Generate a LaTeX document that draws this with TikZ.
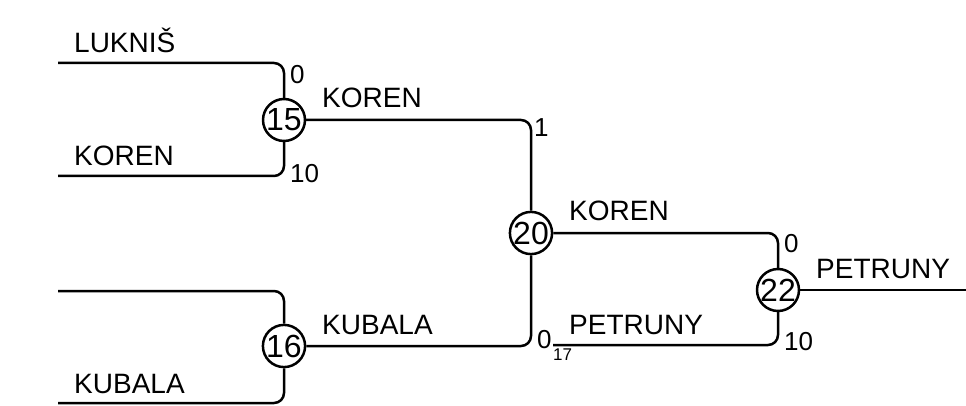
\documentclass[tikz,border=0pt]{standalone}
\usepackage{fontspec}
\setmainfont{Liberation Sans}
\usetikzlibrary{positioning}
\tikzset{
  match/.style={circle,draw,line width=2.5pt,minimum size=39pt,inner sep=0pt,font=\fontsize{32}{32}\selectfont},
  team/.style={anchor=base west,inner sep=0pt,font=\fontsize{28}{28}\selectfont},
  score/.style={inner sep=0pt,font=\fontsize{26}{26}\selectfont},
  wire/.style={line width=2.5pt,rounded corners=10pt}
}
\begin{document}
\begin{tikzpicture}[x=1pt,y=-1pt]
\useasboundingbox (0,0) rectangle (966,406);
\node[match] (m15) at (284,120) {15};
\node[match] (m16) at (284,346) {16};
\node[match] (m20) at (531,233) {20};
\node[match] (m22) at (778,290) {22};
\coordinate (e1) at (58,63);
\coordinate (e2) at (58,176);
\coordinate (e3) at (58,291);
\coordinate (e4) at (58,403);
\coordinate (e5) at (553,345);
\coordinate (out) at (966,290);
\draw[wire] (e1) -| (m15);
\draw[wire] (e2) -| (m15);
\draw[wire] (e3) -| (m16);
\draw[wire] (e4) -| (m16);
\draw[wire] (m15) -| (m20);
\draw[wire] (m16) -| (m20);
\draw[wire] (m20) -| (m22);
\draw[wire] (e5) -| (m22);
\draw[wire] (m22) -- (out);
% names
\node[team] (n1) at (74,53) {LUKNIŠ};
\node[team] (n2) at (74,166) {KOREN};
\node[team] (n4) at (74,393) {KUBALA};
\node[team] (n15) at (322,108) {KOREN};
\node[team] (n16) at (322,334) {KUBALA};
\node[team] (n20) at (569,221) {KOREN};
\node[team] (n5) at (569,334) {PETRUNY};
\node[team] (n22) at (816,278) {PETRUNY};
% scores
\node[score,anchor=north west] (s1) at (290,65) {0};
\node[score,anchor=west] (s2) at (290,174) {10};
\node[score,anchor=north west] (s3) at (534,118) {1};
\node[score,anchor=west] (s4) at (537,340) {0};
\node[inner sep=0pt,anchor=north west,font=\fontsize{17}{17}\selectfont] (s5) at (553,349) {17};
\node[score,anchor=north west] (s6) at (784,234) {0};
\node[score,anchor=west] (s7) at (784,342) {10};
\end{tikzpicture}
\end{document}
